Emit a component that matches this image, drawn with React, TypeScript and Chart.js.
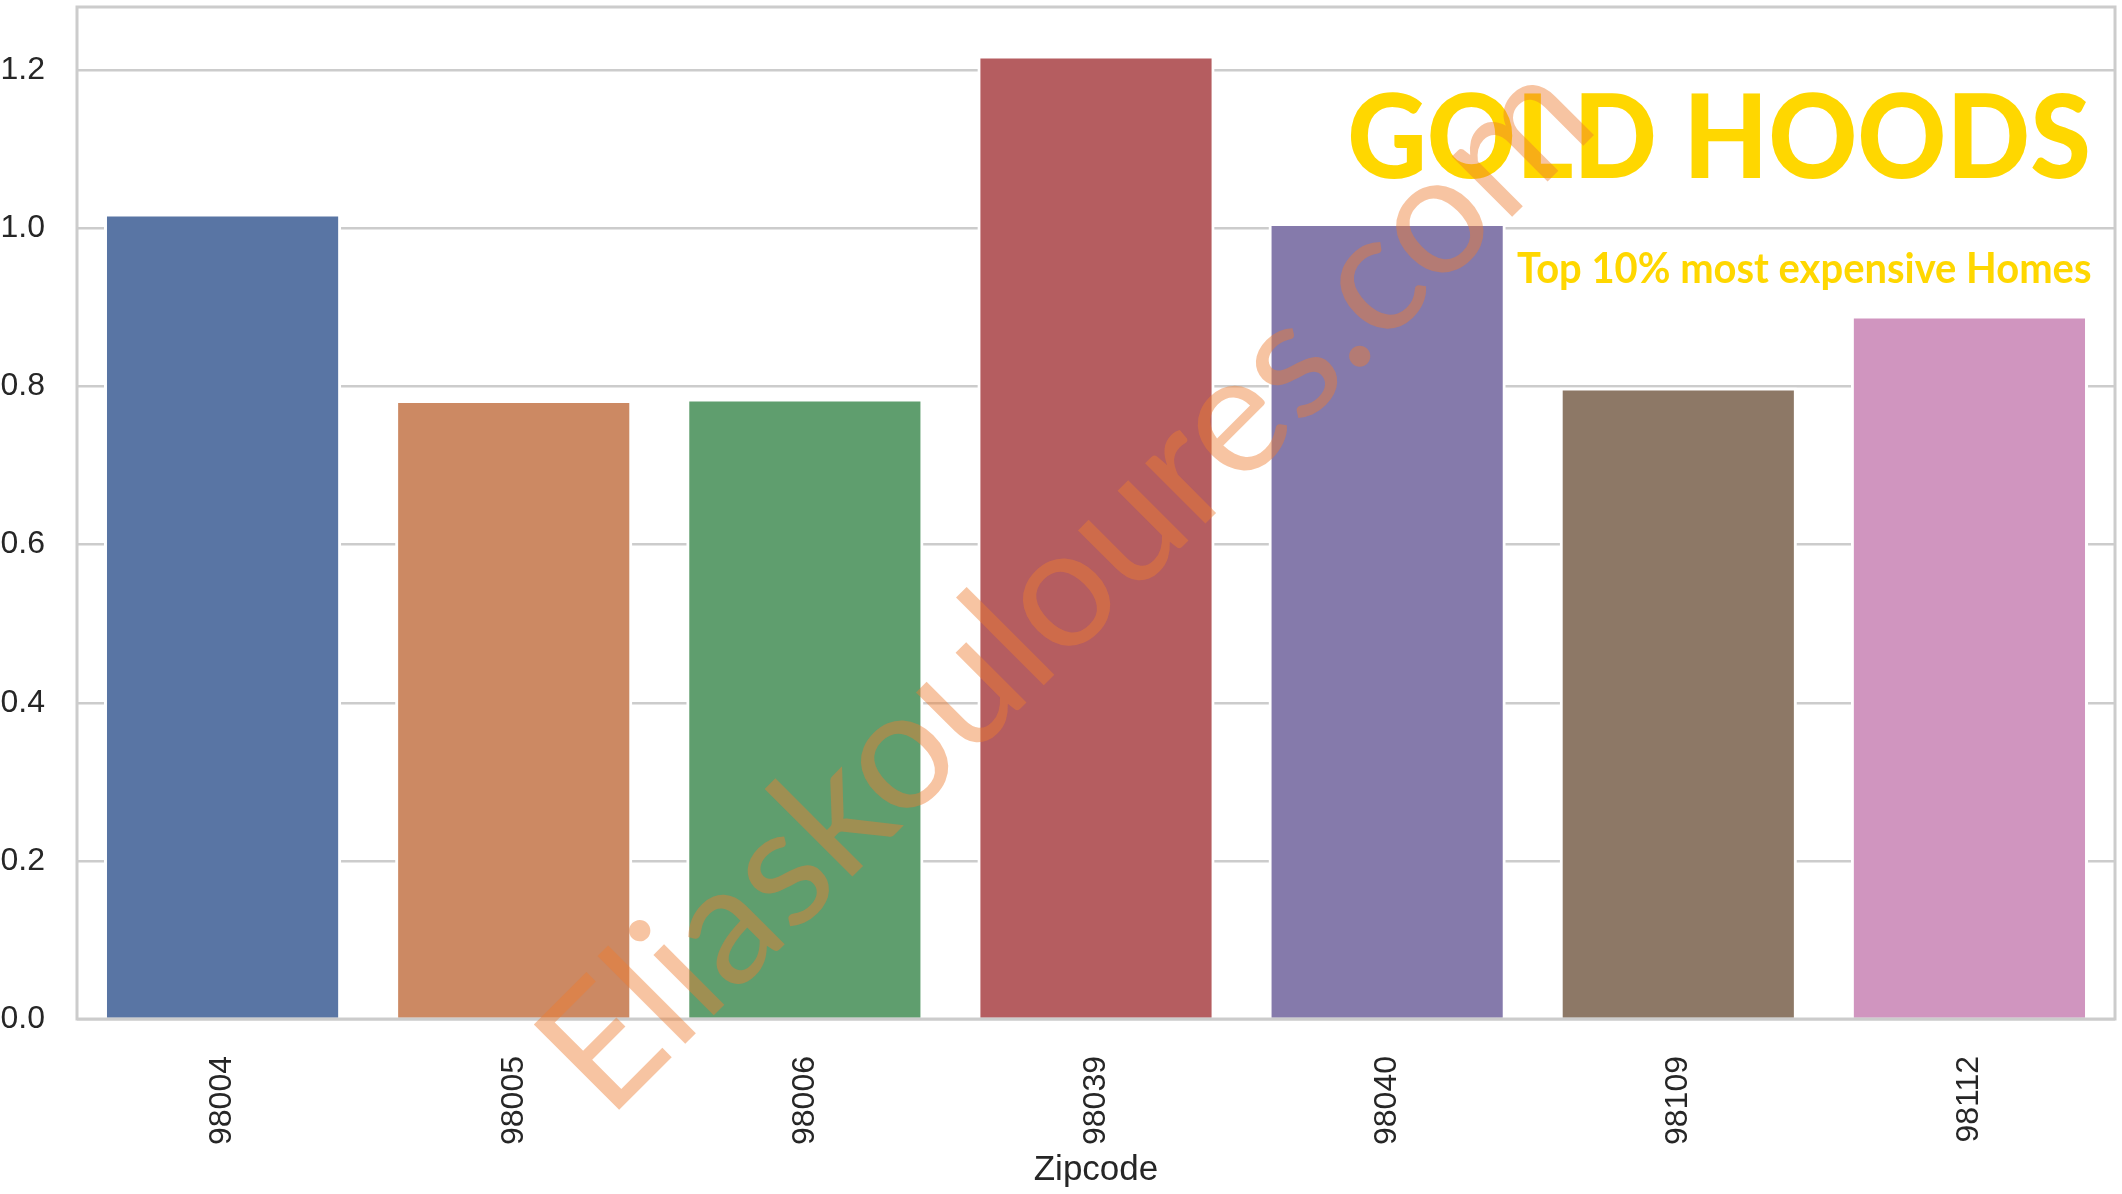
import React, { useEffect, useRef } from 'react';
import { Chart, registerables } from 'chart.js';

Chart.register(...registerables);

// ---- data ----
const zipcodes = ['98004', '98005', '98006', '98039', '98040', '98109', '98112'];
const values = [1.015, 0.779, 0.781, 1.215, 1.003, 0.795, 0.886];
const barColors = ['#5975a4', '#cc8963', '#5f9e6e', '#b55d60', '#857aab', '#8d7866', '#d095bf'];
const yTicks = [0, 0.2, 0.4, 0.6, 0.8, 1.0, 1.2];
const yMax = 1.28;
const xAxisTitle = 'Zipcode';
const titleText = 'GOLD HOODS';
const subtitleText = 'Top 10% most expensive Homes';
const watermarkText = 'Eliaskouloures.com';

const W = 2122;
const H = 1194;
const GOLD = '#FFD700';
const AXIS_FONT = '"Liberation Sans", Arial, sans-serif';

function drawFitted(
  ctx: CanvasRenderingContext2D,
  text: string,
  font: string,
  right: number,
  baseline: number,
  width: number,
  color: string
) {
  ctx.save();
  ctx.font = font;
  ctx.textAlign = 'left';
  ctx.textBaseline = 'alphabetic';
  const m = ctx.measureText(text);
  const natural = m.actualBoundingBoxRight + m.actualBoundingBoxLeft || m.width;
  const sx = width / natural;
  ctx.translate(right - width, baseline);
  ctx.scale(sx, 1);
  ctx.fillStyle = color;
  ctx.fillText(text, m.actualBoundingBoxLeft || 0, 0);
  ctx.restore();
}

const overlayPlugin = {
  id: 'overlay',
  afterDatasetsDraw(chart: any) {
    const { ctx, chartArea: a } = chart;
    ctx.save();
    ctx.strokeStyle = '#cccccc';
    ctx.lineWidth = 3;
    ctx.strokeRect(a.left, a.top, a.right - a.left, a.bottom - a.top);
    ctx.restore();
  },
  afterDraw(chart: any) {
    const { ctx, chartArea: a } = chart;
    // title + subtitle inside the plot, top right
    drawFitted(ctx, titleText, '900 116px "Lato Black", Lato', a.right - 27, a.top + 171, 738, GOLD);
    drawFitted(ctx, subtitleText, '700 42px Lato', a.right - 24, a.top + 276, 574, GOLD);

    // watermark
    ctx.save();
    const cx = 1105;
    const cy = 624;
    const targetLen = 1405;
    ctx.font = '400 160px Lato';
    const w0 = ctx.measureText(watermarkText).width;
    const size = (160 * targetLen) / w0;
    ctx.font = `400 ${size.toFixed(1)}px Lato`;
    ctx.translate(cx, cy);
    ctx.rotate((-45 * Math.PI) / 180);
    ctx.textAlign = 'center';
    ctx.textBaseline = 'alphabetic';
    ctx.fillStyle = 'rgba(237, 125, 49, 0.45)';
    ctx.fillText(watermarkText, 0, 0);
    ctx.restore();
  },
};

export default function App() {
  const canvasRef = useRef<HTMLCanvasElement | null>(null);

  useEffect(() => {
    document.body.style.margin = '0';
    const canvas = canvasRef.current;
    if (!canvas) return;
    const chart = new Chart(canvas, {
      type: 'bar',
      data: {
        labels: zipcodes,
        datasets: [
          {
            data: values,
            backgroundColor: barColors,
            borderColor: '#ffffff',
            borderWidth: 3,
            inflateAmount: 3,
            borderSkipped: 'start',
            barPercentage: 0.794,
            categoryPercentage: 1,
            clip: 0,
          } as any,
        ],
      },
      options: {
        animation: false,
        responsive: false,
        devicePixelRatio: 1,
        layout: { padding: { left: 0, right: 7, top: 7, bottom: 0 } },
        plugins: {
          legend: { display: false },
          tooltip: { enabled: false },
          title: { display: false },
        },
        scales: {
          x: {
            grid: { display: false, drawTicks: false },
            border: { display: false },
            ticks: {
              color: '#262626',
              font: { family: AXIS_FONT, size: 32 },
              minRotation: 90,
              maxRotation: 90,
              padding: 37,
              autoSkip: false,
            },
            title: {
              display: true,
              text: xAxisTitle,
              color: '#262626',
              font: { family: AXIS_FONT, size: 35 },
              padding: { top: 0, bottom: 3 },
            },
            afterFit: (s: any) => {
              s.height = 175;
              s.paddingLeft = 0;
              s.paddingRight = 0;
            },
          },
          y: {
            min: 0,
            max: yMax,
            grid: { color: '#cccccc', lineWidth: 2.5, drawTicks: false },
            border: { display: false },
            ticks: {
              color: '#262626',
              font: { family: AXIS_FONT, size: 32 },
              padding: 32,
              callback: (v: any) => Number(v).toFixed(1),
            },
            afterBuildTicks: (s: any) => {
              s.ticks = yTicks.map((v) => ({ value: v }));
            },
            afterFit: (s: any) => {
              s.width = 77;
              s.paddingTop = 0;
              s.paddingBottom = 0;
            },
          },
        },
      } as any,
      plugins: [overlayPlugin],
    });
    return () => chart.destroy();
  }, []);

  return (
    <div style={{ position: 'fixed', left: 0, top: 0, width: W, height: H, background: '#ffffff' }}>
      <canvas ref={canvasRef} width={W} height={H} style={{ display: 'block', width: W, height: H }} />
    </div>
  );
}
